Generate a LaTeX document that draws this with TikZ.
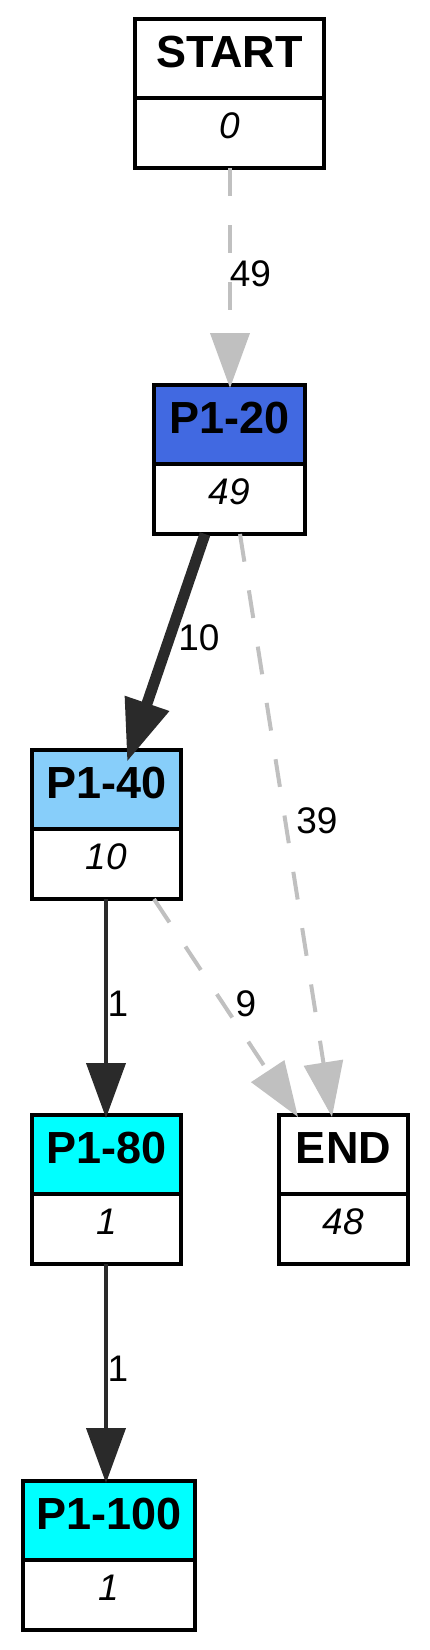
\documentclass[tikz,border=0pt]{standalone}
\usepackage{fontspec}
\setmainfont{Liberation Sans}
\usetikzlibrary{arrows.meta}
\definecolor{edgedark}{HTML}{2A2A2A}
\definecolor{edgegray}{HTML}{C0C0C0}
\definecolor{royal}{HTML}{4169E1}
\definecolor{skyl}{HTML}{87CEFA}
\definecolor{cyanf}{HTML}{00FFFF}
\tikzset{
  boxtop/.style={anchor=north, draw=black, line width=4pt, inner sep=0pt, outer sep=0pt,
    minimum height=79pt, font=\fontsize{45}{54}\selectfont\bfseries,
    text height=33pt, text depth=16pt},
  boxbot/.style={anchor=north, draw=black, fill=white, line width=4pt, inner sep=0pt, outer sep=0pt,
    minimum height=70pt, font=\fontsize{37}{44}\selectfont\itshape,
    text height=26pt, text depth=15pt},
  gvdash/.style={draw=edgegray, line width=4pt, dash pattern=on 28pt off 29pt,
    -{Triangle[length=55pt,width=39pt]}},
  gvthin/.style={draw=edgedark, line width=4pt,
    -{Triangle[length=55pt,width=39pt]}},
  gvthick/.style={draw=edgedark, line width=11pt,
    -{Triangle[length=62pt,width=44pt]}},
  elabel/.style={inner sep=0pt, font=\fontsize{37}{44}\selectfont}
}
\newcommand{\gvbox}[7]{%
  \node[boxtop, fill=#5, minimum width=#4pt] (#1t) at (#2,#3) {#6};
  \node[boxbot, minimum width=#4pt] (#1b) at (#1t.south) {#7};
}
\begin{document}
\begin{tikzpicture}[x=1pt,y=-1pt]
\useasboundingbox (0,0) rectangle (429,1650);
\gvbox{start}{229.5}{19}{189}{white}{START}{0}
\gvbox{ptwenty}{229.5}{385}{151}{royal}{P1-20}{49}
\gvbox{pforty}{106.5}{750}{149}{skyl}{P1-40}{10}
\gvbox{peighty}{106.5}{1115}{149}{cyanf}{P1-80}{1}
\gvbox{pend}{343.5}{1115}{129}{white}{END}{48}
\gvbox{phundred}{109}{1481}{172}{cyanf}{P1-100}{1}
% edges
\draw[gvdash] ([xshift=0.5pt]startb.south) -- ([xshift=0.5pt,yshift=-3pt]ptwentyt.north);
\draw[gvthick] ([xshift=-24.5pt]ptwentyb.south) -- ([xshift=20.5pt,yshift=-12pt]pfortyt.north);
\draw[gvdash] ([xshift=10.5pt]ptwentyb.south) -- ([xshift=-11.5pt,yshift=-2pt]pendt.north);
\draw[gvdash] ([xshift=47.5pt]pfortyb.south) -- ([xshift=-45.5pt,yshift=-2pt]pendt.north);
\draw[gvthin] ([xshift=-0.5pt]pfortyb.south) -- ([xshift=-0.5pt,yshift=-3pt]peightyt.north);
\draw[gvthin] ([xshift=-0.5pt]peightyb.south) -- ([xshift=-3pt,yshift=-2pt]phundredt.north);
% labels
\node[elabel] (lab49) at (250.5,273.5) {49};
\node[elabel] (lab10) at (199,638) {10};
\node[elabel] (lab39) at (317,821) {39};
\node[elabel] (lab9) at (246,1004) {9};
\node[elabel] (lab1a) at (118,1004) {1};
\node[elabel] (lab1b) at (118,1369) {1};
\end{tikzpicture}
\end{document}
